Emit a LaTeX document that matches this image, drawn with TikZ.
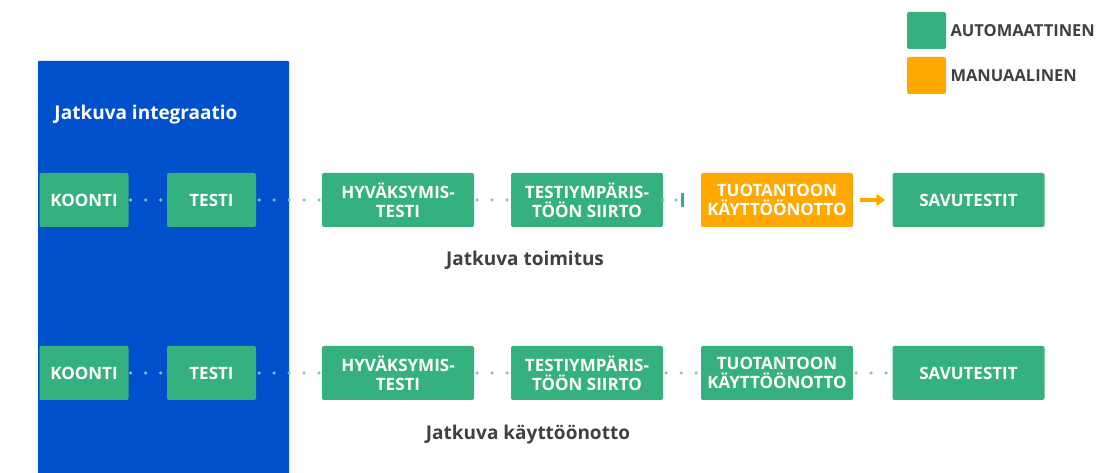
\documentclass[tikz,border=0pt]{standalone}
\usepackage{fontspec}
\setmainfont{Open Sans}
\usetikzlibrary{arrows.meta}

\definecolor{cigreen}{RGB}{52,177,124}
\definecolor{ciorange}{RGB}{255,168,0}
\definecolor{ciblue}{RGB}{0,80,204}
\definecolor{cidot}{RGB}{125,200,190}
\definecolor{citext}{RGB}{64,64,64}

\tikzset{
  stagebox/.style={fill=cigreen, rounded corners=2pt, text=white, align=center,
    font=\bfseries\fontsize{17}{19}\selectfont, minimum height=54pt, inner sep=0pt},
  wide/.style={minimum width=152pt},
  narrow/.style={minimum width=89pt},
  manual/.style={fill=ciorange},
  dotline/.style={cidot, line width=3.5pt, line cap=round, dash pattern=on 0pt off 15pt},
  rowlabel/.style={text=citext, font=\bfseries\fontsize{19}{22}\selectfont},
  legendbox/.style={rounded corners=2pt, minimum width=39pt, minimum height=37pt, inner sep=0pt},
  legendtext/.style={text=citext, anchor=west, font=\bfseries\fontsize{16.5}{19}\selectfont}
}

\begin{document}
\begin{tikzpicture}[x=1pt,y=1pt]
\useasboundingbox (0,0) rectangle (1111,473);

% jatkuva integraatio
\fill[ciblue, rounded corners=1pt] (38,-5) rectangle (289,412);
\node[text=white, font=\bfseries\fontsize{19}{22}\selectfont] (cititle) at (146,358) {Jatkuva integraatio};

% legend
\node[legendbox, fill=cigreen] (autokey) at (926.5,442.5) {};
\node[legendbox, fill=ciorange] (manualkey) at (926.5,397.5) {};
\node[legendtext] (autotext) at (947,442) {AUTOMAATTINEN};
\node[legendtext] (manualtext) at (947,397) {MANUAALINEN};

% jatkuva toimitus
\node[stagebox, narrow] (k1) at (84,273) {KOONTI};
\node[stagebox, narrow] (t1) at (211.5,273) {TESTI};
\node[stagebox, wide] (h1) at (398,273) {HYVÄKSYMIS-\\TESTI};
\node[stagebox, wide] (s1) at (587,273) {TESTIYMPÄRIS-\\TÖÖN SIIRTO};
\node[stagebox, wide, manual] (u1) at (777,273) {TUOTANTOON\\KÄYTTÖÖNOTTO};
\node[stagebox, wide] (v1) at (968.5,273) {SAVUTESTIT};
\coordinate (stop1) at (682,273);

\draw[dotline] ([xshift=2pt]k1.east) -- (t1.west);
\draw[dotline] ([xshift=3pt]t1.east) -- (h1.west);
\draw[dotline] ([xshift=3pt]h1.east) -- (s1.west);
\draw[dotline, dash pattern=on 0pt off 13pt] (s1.east) -- (stop1);
\draw[cigreen, line width=3pt] ([yshift=-7pt]stop1) -- ([yshift=7pt]stop1);
\draw[ciorange, line width=3.5pt, -{Triangle[length=9pt, width=12pt]}, shorten <=7pt, shorten >=7pt] (u1.east) -- (v1.west);

\node[rowlabel] (cdlabel) at (525,213) {Jatkuva toimitus};

% jatkuva kayttoonotto
\node[stagebox, narrow] (k2) at (84,100) {KOONTI};
\node[stagebox, narrow] (t2) at (211.5,100) {TESTI};
\node[stagebox, wide] (h2) at (398,100) {HYVÄKSYMIS-\\TESTI};
\node[stagebox, wide] (s2) at (587,100) {TESTIYMPÄRIS-\\TÖÖN SIIRTO};
\node[stagebox, wide] (u2) at (777,100) {TUOTANTOON\\KÄYTTÖÖNOTTO};
\node[stagebox, wide] (v2) at (968.5,100) {SAVUTESTIT};

\draw[dotline] ([xshift=2pt]k2.east) -- (t2.west);
\draw[dotline] ([xshift=3pt]t2.east) -- (h2.west);
\draw[dotline] ([xshift=3pt]h2.east) -- (s2.west);
\draw[dotline] ([xshift=3pt]s2.east) -- (u2.west);
\draw[dotline] ([xshift=3pt]u2.east) -- (v2.west);

\node[rowlabel] (cdeplabel) at (528,38) {Jatkuva käyttöönotto};
\end{tikzpicture}
\end{document}
